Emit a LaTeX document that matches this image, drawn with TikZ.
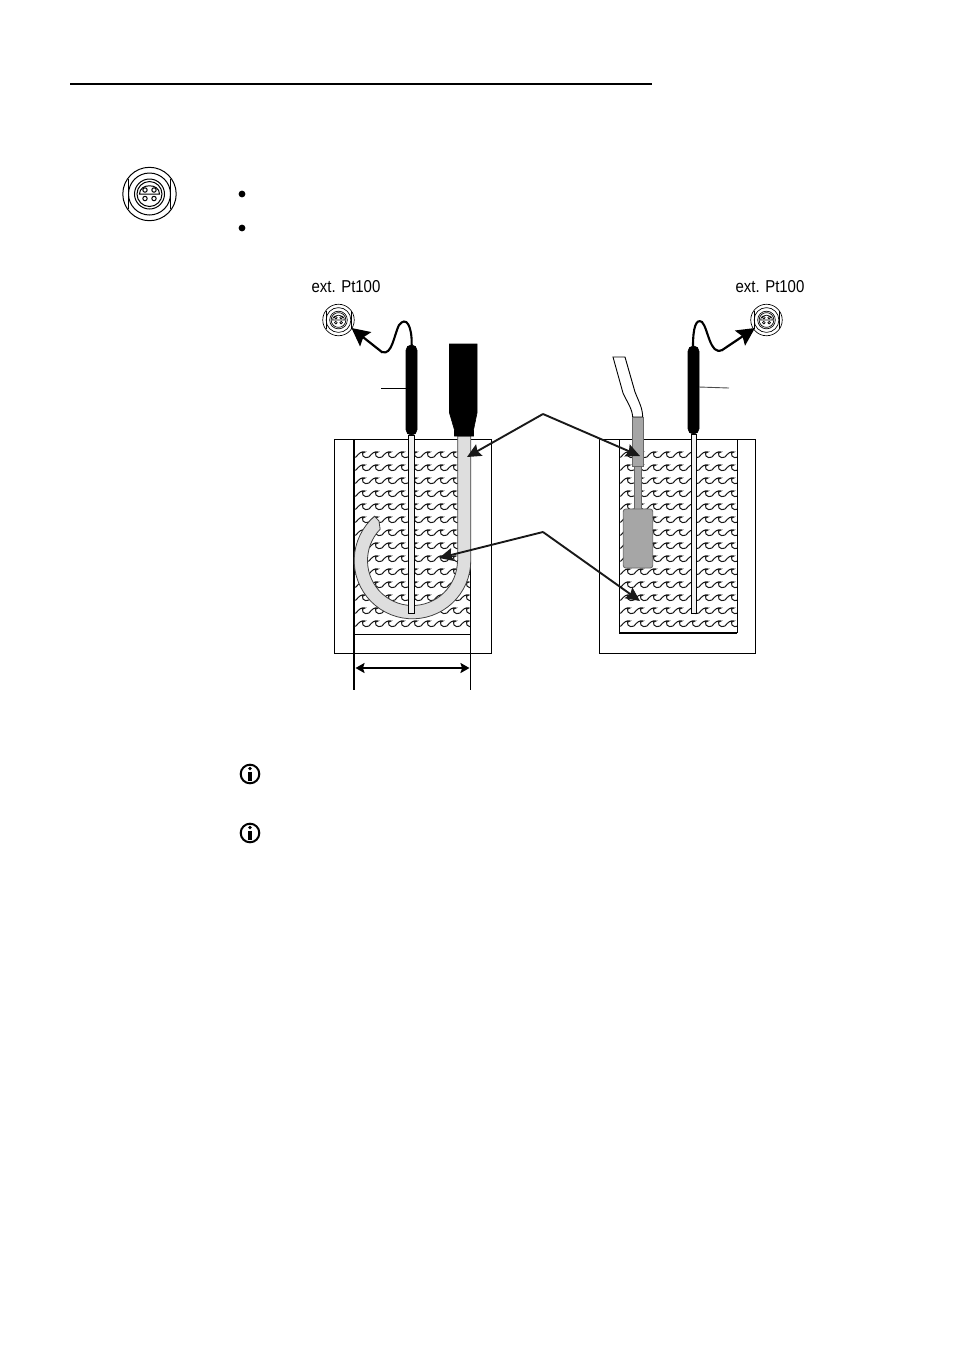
\documentclass[tikz,border=0pt]{standalone}
\usepackage{fontspec}
\setmainfont{Liberation Sans}
\newfontfamily\narrowfont[FakeStretch=0.87]{Liberation Sans}
\usetikzlibrary{arrows.meta}

\tikzset{
 thinline/.style={line width=0.45pt},
 waveline/.style={line width=0.5pt,black!90},
 blackpart/.style={fill=black,draw=black,line width=0.3pt},
 greypart/.style={fill=black!35,draw=black!60,line width=0.4pt},
 rodpart/.style={fill=black!6,draw=black,line width=0.4pt},
 tubepart/.style={fill=black!13,draw=black!75,line width=0.4pt},
 pointer/.style={line width=0.95pt,black!90,-{Stealth[length=7pt,width=6.5pt,inset=1pt]}},
 plugpointer/.style={line width=1.1pt,black,-{Stealth[length=9pt,width=9pt,inset=1.5pt]}},
 cableline/.style={line width=1.05pt,black},
 pinlabel/.style={font=\narrowfont\fontsize{8.6}{10}\selectfont,inner sep=0pt}
}

% round socket, #1 = centre, #2 = scale
\newcommand{\pinsocket}[3]{%
 \begin{scope}[shift={(#1,#2)},x=#3*0.5pt,y=-#3*0.5pt,line width=#3*0.4pt+0.1pt]
  \draw (0,0) circle (26.7);
  \draw (0,0) circle (21);
  \draw (0,0) circle (15);
  \draw (0,0) circle (12.5);
  \draw (-21,-15) -- (-21,15);
  \draw (21,-15) -- (21,15);
  \draw (-10,0) .. controls (-10,-11) and (10,-11) .. (10,0) -- cycle;
  \foreach \px in {-4.5,4.5}
   \foreach \py in {-4,4.5}
    \draw[fill=white] (\px,\py) circle (2.2);
 \end{scope}}

% info sign
\newcommand{\infosign}[2]{%
 \draw[line width=1pt] (#1,#2) circle (9.3);
 \fill (#1,#2-5.5) circle (1.8);
 \fill (#1-1.7,#2-2.5) rectangle (#1+1.7,#2+7);
}

% one wave, #1 and #2 = start
\newcommand{\onewave}[2]{%
 \draw[waveline] (#1,#2+2) .. controls (#1+3,#2-2) and (#1+6,#2-4) .. (#1+9,#2-3)
   .. controls (#1+7,#2-3) and (#1+5,#2-1) .. (#1+7,#2+1)
   .. controls (#1+8,#2+3) and (#1+11,#2+3) .. (#1+13,#2+2);
}

\begin{document}
\begin{tikzpicture}[x=0.5pt,y=-0.5pt]

 \useasboundingbox (0,0) rectangle (954,1351);

 \draw[line width=1pt] (70,84) -- (652,84); % head rule

 \pinsocket{149.5}{194}{1}
 \fill (242,194) circle (3.4);
 \fill (242,228) circle (3.4);

% Water in the left bath
 \begin{scope}
  \clip (355,449) rectangle (470,634);
  \foreach \wy in {455,468,...,624}
   \foreach \wx in {343,356,...,473}
    {\onewave{\wx}{\wy}}
 \end{scope}

% Water in the right bath
 \begin{scope}
  \clip (620,449) rectangle (737,633);
  \foreach \wy in {455,468,...,637}
   \foreach \wx in {608,621,...,738}
    {\onewave{\wx}{\wy}}
 \end{scope}

% Left bath
 \draw[thinline] (334,439) rectangle (491,653);
 \draw[line width=0.8pt] (354,439) -- (354,690);
 \draw[thinline] (470.5,439) -- (470.5,690);
 \draw[thinline] (354,634) -- (470.5,634);

% Right bath
 \draw[thinline] (599,439) rectangle (755,653);
 \draw[thinline] (619,439) -- (619,633);
 \draw[thinline] (737,439) -- (737,633);
 \draw[line width=0.8pt] (619,633) -- (737,633);

% Bent tube
 \draw[tubepart] (457.7,436) -- (457.7,560.5)
   -- plot[domain=0:224,samples=40] ({412.5+45*cos(\x)},{560.5+45*sin(\x)})
   -- (379,521) -- (375,516.7)
   -- plot[domain=229.4:0,samples=40] ({412.5+58.3*cos(\x)},{560.5+58.3*sin(\x)})
   -- (470.8,436) -- cycle;

% Black plug on the bent tube
 \draw[blackpart] (449.5,344) -- (477,344) -- (477,413) -- (473.5,430) -- (473.5,436)
   -- (454.5,436) -- (454.5,430) -- (449.5,413) -- cycle;

% Left thermometer
 \draw[rodpart] (408,435) rectangle (414.5,613);
 \draw[blackpart,rounded corners=2.6pt] (406,345) rectangle (417,435);
 \draw[thinline] (381,388) -- (406,388);
 \coordinate (leftcable) at (411.7,345);
 \coordinate (leftjack) at (351.5,328);
 \draw[cableline] (leftcable) .. controls (412,325) and (406,316) .. (399,325)
   .. controls (394,335) and (392,356) .. (382,352);
 \draw[plugpointer] (382.5,352.5) -- (leftjack);
 \pinsocket{338.5}{320}{0.59}
 \node[pinlabel] (leftlabel) at (346,287) {ext. Pt100};

% Right thermometer
 \draw[rodpart] (691,434) rectangle (696.5,613);
 \draw[blackpart,rounded corners=2.6pt] (688,346) rectangle (699,434);
 \draw[thinline,black!70] (699,387) -- (729,388);
 \coordinate (rightcable) at (693,346);
 \coordinate (rightjack) at (755,328);
 \draw[cableline] (rightcable) .. controls (693,328) and (696,318) .. (702,322)
   .. controls (708,328) and (710,356) .. (722,350);
 \draw[plugpointer] (721.5,350.5) -- (rightjack);
 \pinsocket{766.5}{320}{0.59}
 \node[pinlabel] (rightlabel) at (770,287) {ext. Pt100};

% Sensor with grey sleeve
 \draw[fill=white,thinline] (613,357) -- (625,357) -- (635,392)
   .. controls (639,402) and (642.5,408) .. (642.7,417) -- (632.7,417)
   .. controls (632,408) and (627,402) .. (623,393) -- cycle;
 \draw[greypart] (634.5,466) rectangle (641.7,510);
 \draw[greypart] (632.7,417) rectangle (643,466.5);
 \draw[greypart,rounded corners=1.2pt] (623.3,509) rectangle (652.7,568);

% Pointer lines
 \coordinate (hubupper) at (543,414);
 \coordinate (hublower) at (543,532);
 \coordinate (tubetop) at (467,457);
 \coordinate (sleevetop) at (640,456);
 \coordinate (tubewater) at (439,558);
 \coordinate (bathwater) at (640,601);
 \draw[pointer] (hubupper) -- (tubetop);
 \draw[pointer] (hubupper) -- (sleevetop);
 \draw[pointer] (hublower) -- (tubewater);
 \draw[pointer] (hublower) -- (bathwater);

% Width of the bath
 \coordinate (dimleft) at (355.5,668);
 \coordinate (dimright) at (469.5,668);
 \draw[line width=0.9pt,black,{Stealth[length=4.5pt,width=5pt,inset=0.8pt]}-{Stealth[length=4.5pt,width=5pt,inset=0.8pt]}] (dimleft) -- (dimright);

 \infosign{250}{774}
 \infosign{250}{833}

\end{tikzpicture}
\end{document}
